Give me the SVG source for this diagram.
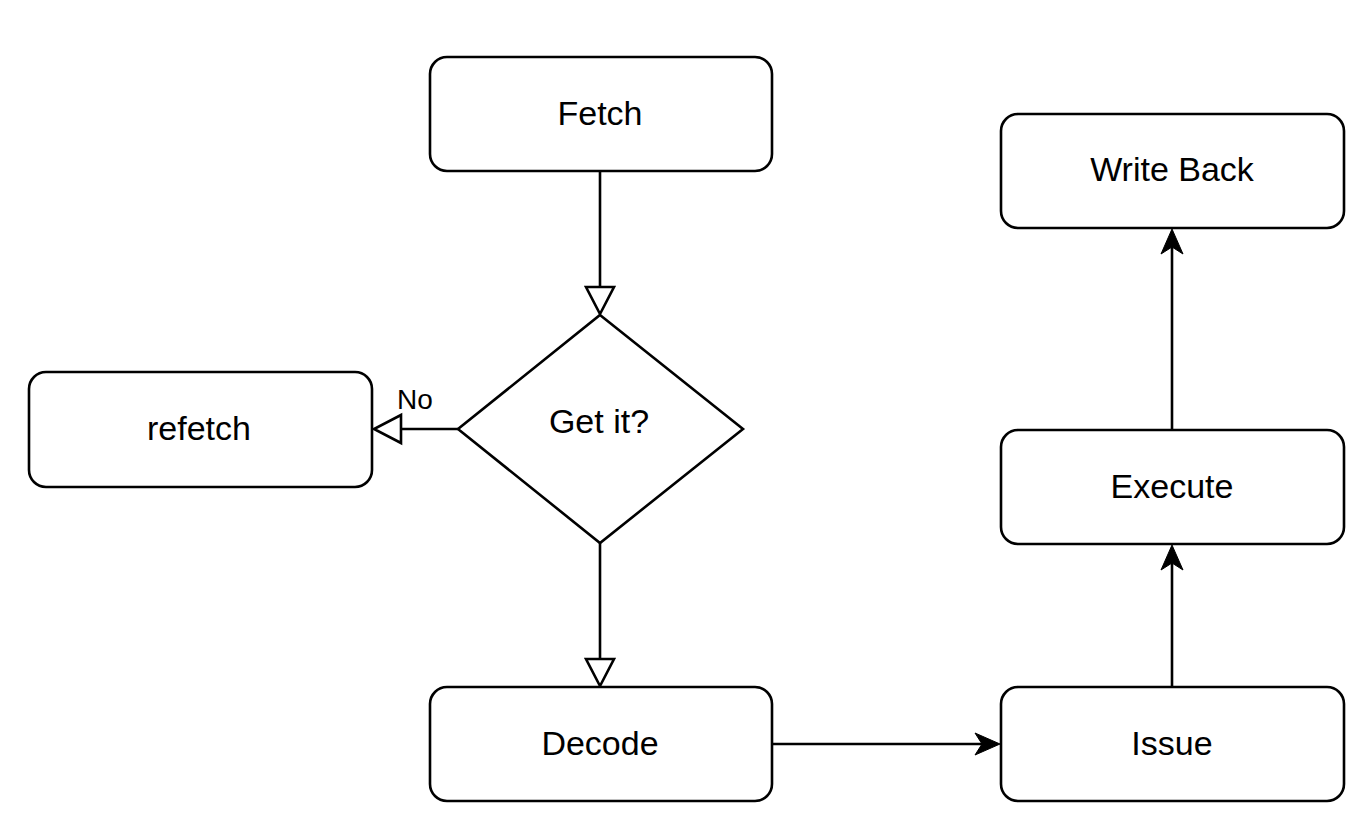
<svg xmlns="http://www.w3.org/2000/svg" width="1372" height="824" viewBox="0 0 1372 824">
<style>
.box{fill:#fff;stroke:#000;stroke-width:2.6}
.lbl{font-family:"Liberation Sans",Arial,sans-serif;font-size:34px;fill:#000;text-anchor:middle}
.edge{fill:none;stroke:#000;stroke-width:2.6}
.open{fill:#fff;stroke:#000;stroke-width:2.6}
.solid{fill:#000;stroke:#000;stroke-width:1}
</style>
<rect width="1372" height="824" fill="#fff"/>
<g id="connectors">
<line class="edge" x1="600" y1="171" x2="600" y2="287"/>
<polygon class="open" points="586,287 614,287 600,314"/>
<line class="edge" x1="458" y1="429" x2="401" y2="429"/>
<polygon class="open" points="401,415 401,443 374,429"/>
<text class="lbl" x="415" y="409" style="font-size:28px">No</text>
<line class="edge" x1="600" y1="543" x2="600" y2="659"/>
<polygon class="open" points="586,659 614,659 600,686"/>
<line class="edge" x1="772" y1="744" x2="985" y2="744"/>
<polygon class="solid" points="975,733 1000,744 975,755 982,744"/>
<line class="edge" x1="1172" y1="687" x2="1172" y2="560"/>
<polygon class="solid" points="1161,570 1172,545 1183,570 1172,563"/>
<line class="edge" x1="1172" y1="430" x2="1172" y2="244"/>
<polygon class="solid" points="1161,254 1172,229 1183,254 1172,247"/>
</g>
<g id="fetch">
<rect class="box" x="430" y="57" width="342" height="114" rx="17"/>
<text class="lbl" x="600" y="125">Fetch</text>
</g>
<g id="getit">
<polygon class="box" points="600,315 743,429 600,543 458,429"/>
<text class="lbl" x="599" y="433">Get it?</text>
</g>
<g id="refetch">
<rect class="box" x="29" y="372" width="343" height="115" rx="17"/>
<text class="lbl" x="199" y="440">refetch</text>
</g>
<g id="decode">
<rect class="box" x="430" y="687" width="342" height="114" rx="17"/>
<text class="lbl" x="600" y="755">Decode</text>
</g>
<g id="issue">
<rect class="box" x="1001" y="687" width="343" height="114" rx="17"/>
<text class="lbl" x="1172" y="755">Issue</text>
</g>
<g id="execute">
<rect class="box" x="1001" y="430" width="343" height="114" rx="17"/>
<text class="lbl" x="1172" y="498">Execute</text>
</g>
<g id="writeback">
<rect class="box" x="1001" y="114" width="343" height="114" rx="17"/>
<text class="lbl" x="1172" y="181">Write Back</text>
</g>
</svg>
